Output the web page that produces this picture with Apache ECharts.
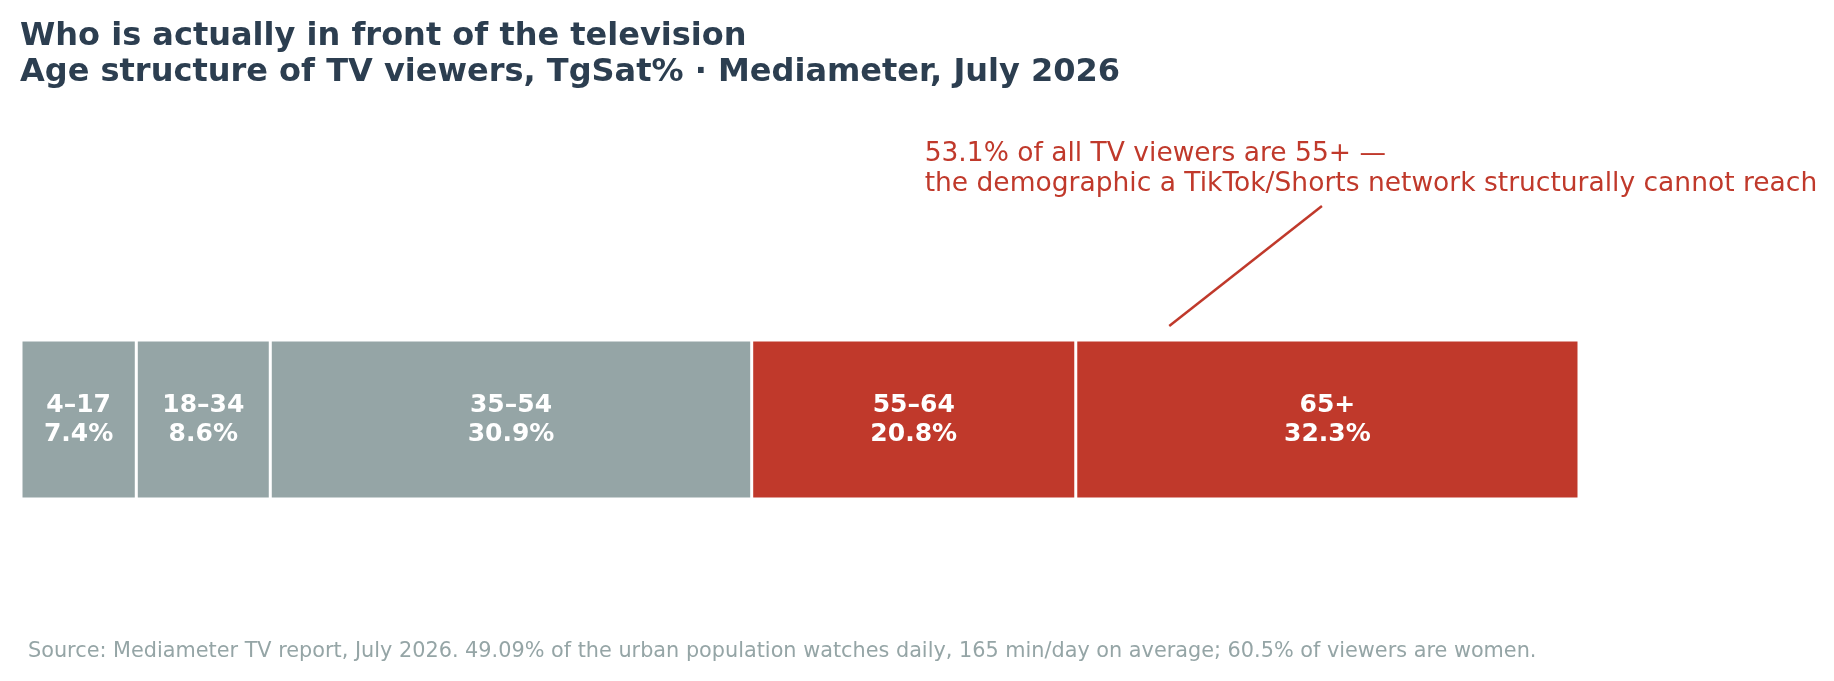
<!DOCTYPE html>
<html>
<head>
<meta charset="utf-8">
<script src="https://cdn.jsdelivr.net/npm/echarts@6/dist/echarts.min.js"></script>
<style>
html,body{margin:0;padding:0;background:#fff;}
#chart{width:1834px;height:681px;}
</style>
</head>
<body>
<div id="chart"></div>
<script>
// ---- data ----
const ageGroups = ['4–17', '18–34', '35–54', '55–64', '65+'];
const shares = [7.4, 8.6, 30.9, 20.8, 32.3];
const highlighted = [false, false, false, true, true];
const titleLines = ['Who is actually in front of the television', 'Age structure of TV viewers, TgSat% · Mediameter, July 2026'];
const annotationLines = ['53.1% of all TV viewers are 55+ —', 'the demographic a TikTok/Shorts network structurally cannot reach'];
const sourceNote = 'Source: Mediameter TV report, July 2026. 49.09% of the urban population watches daily, 165 min/day on average; 60.5% of viewers are women.';

const GRAY = '#95a5a6', RED = '#c0392b', DARK = '#2c3e50';
const FONT = 'DejaVu Sans';

const chart = echarts.init(document.getElementById('chart'), null, {renderer: 'canvas'});

const series = ageGroups.map((g, i) => ({
  name: g,
  type: 'bar',
  stack: 'total',
  barWidth: '100%',
  data: [shares[i]],
  itemStyle: {color: highlighted[i] ? RED : GRAY, borderColor: '#ffffff', borderWidth: 1.5},
  label: {
    show: true,
    position: 'inside',
    formatter: p => p.seriesName + '\n' + p.value.toFixed(1) + '%',
    color: '#ffffff',
    fontFamily: FONT,
    fontWeight: 'bold',
    fontSize: 25,
    lineHeight: 29
  },
  emphasis: {disabled: true},
  silent: true
}));

chart.setOption({
  animation: false,
  backgroundColor: '#ffffff',
  title: {
    text: titleLines.join('\n'),
    left: 15,
    top: 14,
    textStyle: {fontFamily: FONT, fontWeight: 'bold', fontSize: 32, lineHeight: 36, color: DARK}
  },
  grid: {left: 21, right: 255, top: 340, bottom: 182, containLabel: false},
  xAxis: {type: 'value', min: 0, max: 100, show: false},
  yAxis: {type: 'category', data: ['TgSat%'], show: false},
  series: series
});

// annotation anchored to the 65+ segment via the chart's scales
const cum65 = shares.slice(0, 4).reduce((a, b) => a + b, 0);
const pBottom = chart.convertToPixel({gridIndex: 0}, [cum65 + 6.0, 0]);
const pTop = chart.convertToPixel({gridIndex: 0}, [cum65 + 15.8, 0]);
const barTopY = chart.getModel().getComponent('grid').coordinateSystem.getRect().y;
const textX = chart.convertToPixel({gridIndex: 0}, [58.0, 0])[0];

chart.setOption({
  graphic: [
    {
      type: 'line',
      shape: {x1: pBottom[0], y1: barTopY - 14, x2: pTop[0], y2: barTopY - 134},
      style: {stroke: RED, lineWidth: 2.5},
      silent: true
    },
    {
      type: 'text',
      left: textX,
      top: 139,
      style: {text: annotationLines.join('\n'), fill: RED, font: '26.5px "' + FONT + '"', lineHeight: 30},
      silent: true
    },
    {
      type: 'text',
      left: 28,
      top: 641,
      style: {text: sourceNote, fill: GRAY, font: '20.8px "' + FONT + '"'},
      silent: true
    }
  ]
});
</script>
</body>
</html>
